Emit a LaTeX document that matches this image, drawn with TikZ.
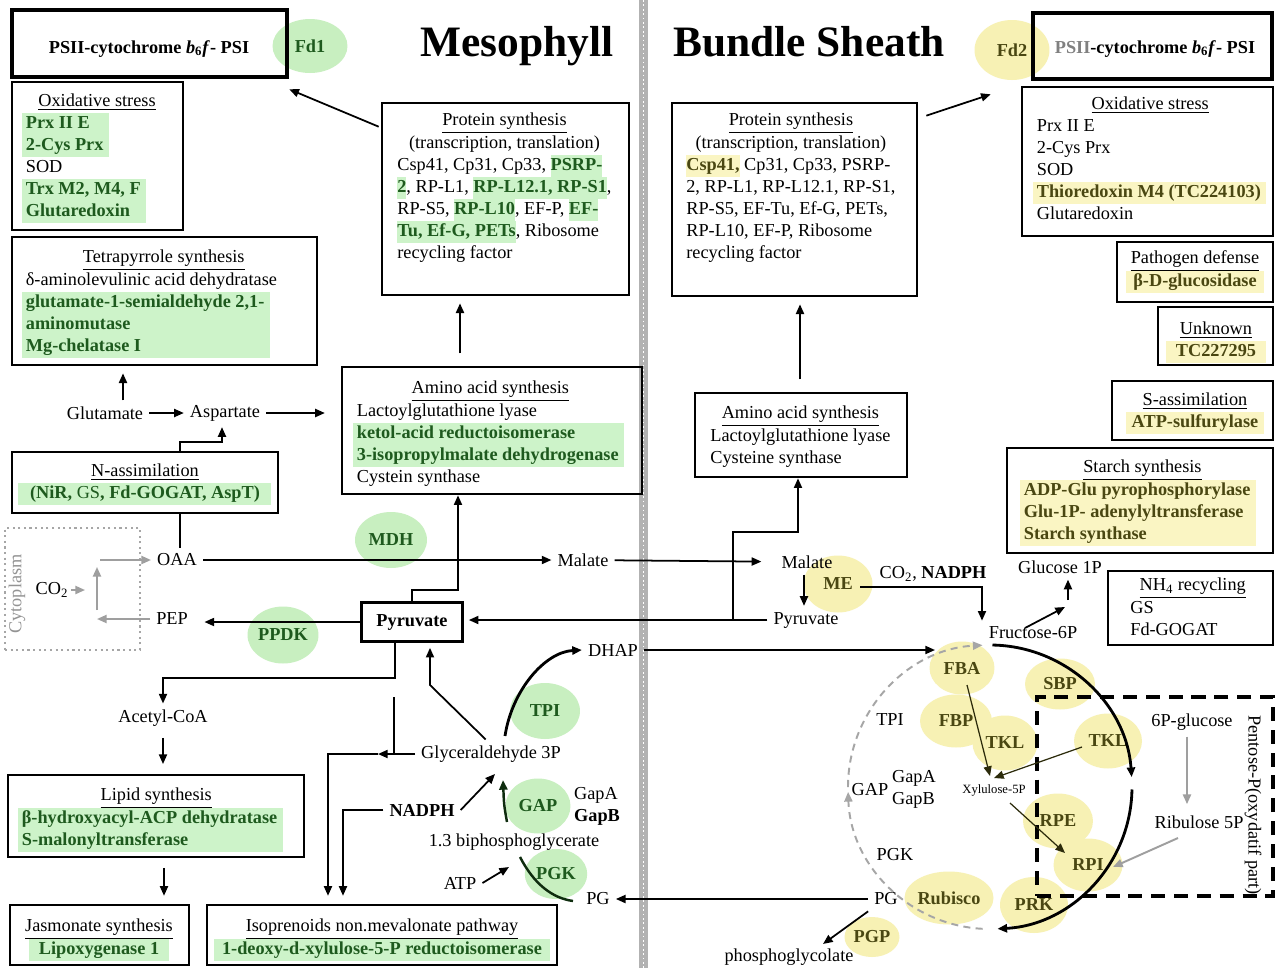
\documentclass[tikz,border=0pt]{standalone}
\usepackage{fontspec}
\setmainfont{Liberation Serif}
\usepackage{array}
\usetikzlibrary{arrows.meta,shapes.geometric,fit}

\definecolor{hlgreen}{HTML}{CDF3C9}
\definecolor{ellgreen}{HTML}{C8EFC0}
\definecolor{txgreen}{HTML}{1E5A1E}
\definecolor{hlyellow}{HTML}{FAF5C3}
\definecolor{ellyellow}{HTML}{F7F1B4}
\definecolor{txolive}{HTML}{4A4712}

\setlength{\fboxsep}{0pt}
% highlighted blocks, words and centred lines
\newcommand{\gb}[1]{\colorbox{hlgreen}{\begin{tabular}{@{\hspace{2pt}}>{\bfseries\color{txgreen}}l@{\hspace{3pt}}}#1\end{tabular}}}
\newcommand{\yb}[1]{\colorbox{hlyellow}{\begin{tabular}{@{\hspace{2pt}}>{\bfseries\color{txolive}}l@{\hspace{3pt}}}#1\end{tabular}}}
\newcommand{\gw}[1]{\colorbox{hlgreen}{\strut\textbf{\color{txgreen}#1}}}
\newcommand{\yw}[1]{\colorbox{hlyellow}{\strut\textbf{\color{txolive}#1}}}
\newcommand{\gc}[2]{\colorbox{hlgreen}{\makebox[#1]{\strut\textbf{\color{txgreen}#2}}}}
\newcommand{\yc}[2]{\colorbox{hlyellow}{\makebox[#1]{\strut\textbf{\color{txolive}#2}}}}
\newcommand{\ttl}[1]{\multicolumn{1}{@{}c@{}}{\underline{#1}}}

\begin{document}
\begin{tikzpicture}[x=0.02cm, y=-0.02cm, >={Triangle[length=5.5pt,width=4.6pt]},
    every node/.style={font=\fontsize{10.4}{12.5}\selectfont},
    obox/.style={draw, line width=1.5pt, inner sep=0pt},
    pbox/.style={draw, line width=2.6pt, inner sep=0pt},
    tbox/.style={inner sep=0pt},
    gell/.style={ellipse, fill=ellgreen, inner sep=0pt, text=txgreen, font=\fontsize{10.4}{12.5}\selectfont\bfseries},
    yell/.style={ellipse, fill=ellyellow, inner sep=0pt, text=txolive, font=\fontsize{10.4}{12.5}\selectfont\bfseries},
    arr/.style={->, line width=1pt},
    garr/.style={->, line width=1.1pt, draw=gray!75},
    xarr/.style={->, line width=0.7pt, draw=txolive!60!black},
    cyc/.style={->, line width=1.6pt},
    dcyc/.style={->, line width=1.1pt, draw=gray!70, dash pattern=on 4pt off 3pt}]

\useasboundingbox (0,0) rectangle (1276,968);
\fill[white] (0,0) rectangle (1276,968);

% separator
\fill[gray!60] (639,0) rectangle (648,968);
\draw[white, line width=1pt, dash pattern=on 1pt off 1.5pt] (643.5,0) -- (643.5,968);

% headings
\node[anchor=base, font=\fontsize{24.7}{29}\selectfont\bfseries] (meso) at (517,56) {Mesophyll};
\node[anchor=base, font=\fontsize{24.7}{29}\selectfont\bfseries] (bsh) at (809,56) {Bundle Sheath};

% enzymes, mesophyll
\node[gell, minimum width=1.5cm, minimum height=1.08cm] (fd1) at (310,46) {Fd1};
\node[gell, minimum width=1.44cm, minimum height=1.12cm] (mdh) at (391,540) {MDH};
\node[gell, minimum width=1.42cm, minimum height=1.14cm] (ppdk) at (283,635) {PPDK};
\node[gell, minimum width=1.4cm, minimum height=1.12cm] (tpi) at (545,711) {TPI};
\node[gell, minimum width=1.3cm, minimum height=1.1cm] (gap) at (538,806) {GAP};
\node[gell, minimum width=1.25cm, minimum height=1.0cm] (pgk) at (556,874) {PGK};

% enzymes, bundle sheath
\node[yell, minimum width=1.5cm, minimum height=1.2cm] (fd2) at (1012,50) {Fd2};
\node[yell, minimum width=1.38cm, minimum height=1.14cm] (me) at (838,584) {ME};
\node[yell, minimum width=1.3cm, minimum height=1.06cm] (fba) at (962,668) {FBA};
\node[yell, minimum width=1.44cm, minimum height=1.06cm] (fbp) at (956,721) {FBP};
\node[yell, minimum width=1.3cm, minimum height=1.1cm] (tkla) at (1005,743) {TKL};
\node[yell, minimum width=1.4cm, minimum height=1.02cm] (sbp) at (1060,684) {SBP};
\node[yell, minimum width=1.36cm, minimum height=1.1cm] (tklb) at (1108,741) {TKL};
\node[yell, minimum width=1.4cm, minimum height=1.1cm] (rpe) at (1058,821) {RPE};
\node[yell, minimum width=1.38cm, minimum height=1.06cm] (rpi) at (1088,865) {RPI};
\node[yell, minimum width=1.36cm, minimum height=1.12cm] (prk) at (1034,905) {PRK};
\node[yell, minimum width=1.5cm, minimum height=1.06cm] (rub) at (949,898) {Rubisco};
\node[yell, minimum width=1.1cm, minimum height=0.8cm] (pgp) at (872,937) {PGP};

% frames, mesophyll
\node[pbox, fit={(12,10) (287,77)}] (psi1) {};
\node[obox, fit={(12,82) (183,230)}] (ox1) {};
\node[obox, fit={(12,237) (317,365)}] (tetra) {};
\node[obox, fit={(12,452) (278,513)}] (nassim) {};
\node[obox, fit={(342,367) (642,494)}] (amino1) {};
\node[obox, fit={(382,103) (629,295)}] (prot1) {};
\node[obox, fit={(8,775) (304,857)}] (lipid) {};
\node[obox, fit={(10,905) (189,965)}] (jasm) {};
\node[obox, fit={(207,905) (557,965)}] (isop) {};
\node[draw=gray!70, line width=1.2pt, dotted, inner sep=0pt, fit={(5,528) (140,650)}] (cytobox) {};

% frames, bundle sheath
\node[obox, fit={(672,103) (917,296)}] (prot2) {};
\node[obox, fit={(695,393) (907,477)}] (amino2) {};
\node[pbox, fit={(1033,13) (1272,79)}] (psi2) {};
\node[obox, fit={(1022,87) (1273,236)}] (ox2) {};
\node[obox, fit={(1117,242) (1273,302)}] (path) {};
\node[obox, fit={(1158,307) (1273,365)}] (unk) {};
\node[obox, fit={(1112,381) (1273,440)}] (sass) {};
\node[obox, fit={(1007,448) (1273,553)}] (starch) {};
\node[obox, fit={(1108,571) (1273,645)}] (nh4) {};
\node[draw, line width=1.8pt, dash pattern=on 8pt off 5pt, inner sep=0pt, fit={(1037,697) (1273,896)}] (pent) {};

% frame texts, mesophyll
\node[anchor=base] (psi1t) at (149,53) {\textbf{PSII-cytochrome \textit{b}\textsubscript{6}\textit{f}- PSI}};
\node[tbox, anchor=north west] (ox1t) at (22,91) {\begin{tabular}{@{}p{85pt}@{}}
  \ttl{Oxidative stress}\\
  \gb{Prx II E\\2-Cys Prx}\\
  \hspace{2pt}SOD\\
  \gb{Trx M2, M4, F\\Glutaredoxin}
\end{tabular}};
\node[tbox, anchor=north west] (tetrat) at (22,247) {\begin{tabular}{@{}p{161pt}@{}}
  \ttl{Tetrapyrrole synthesis}\\
  \hspace{2pt}δ-aminolevulinic acid dehydratase\\
  \gb{glutamate-1-semialdehyde 2,1-\\aminomutase\\Mg-chelatase I}
\end{tabular}};
\node[tbox, anchor=north] (nassimt) at (145,461) {\begin{tabular}{@{}c@{}}
  \underline{N-assimilation}\\
  \gc{144pt}{(NiR, {\mdseries GS}, Fd-GOGAT, AspT)}
\end{tabular}};
\node[tbox, anchor=north west] (amino1t) at (353,378) {\begin{tabular}{@{}p{156pt}@{}}
  \ttl{Amino acid synthesis}\\
  \hspace{2pt}Lactoylglutathione lyase\\
  \gb{ketol-acid reductoisomerase\\3-isopropylmalate dehydrogenase}\\
  \hspace{2pt}Cystein synthase
\end{tabular}};
\node[tbox, anchor=north west] (prot1t) at (397,110) {\begin{tabular}{@{}l@{}}
  \ttl{Protein synthesis}\\
  \multicolumn{1}{@{}c@{}}{(transcription, translation)}\\
  Csp41, Cp31, Cp33, \gw{PSRP-}\\
  \gw{2}, RP-L1, \gw{RP-L12.1, RP-S1},\\
  RP-S5, \gw{RP-L10}, EF-P, \gw{EF-}\\
  \gw{Tu, Ef-G, PETs}, Ribosome\\
  recycling factor
\end{tabular}};
\node[tbox, anchor=north west] (lipidt) at (18,785) {\begin{tabular}{@{}p{157pt}@{}}
  \ttl{Lipid synthesis}\\
  \gb{β-hydroxyacyl-ACP dehydratase\\S-malonyltransferase}
\end{tabular}};
\node[tbox, anchor=north] (jasmt) at (99,916) {\begin{tabular}{@{}c@{}}
  \underline{Jasmonate synthesis}\\
  \gc{80pt}{Lipoxygenase 1}
\end{tabular}};
\node[tbox, anchor=north] (isopt) at (382,916) {\begin{tabular}{@{}c@{}}
  \underline{Isoprenoids non.mevalonate pathway}\\
  \gc{191pt}{1-deoxy-d-xylulose-5-P reductoisomerase}
\end{tabular}};

% frame texts, bundle sheath
\node[anchor=base] (psi2t) at (1155,53) {\textbf{{\color{gray}PSII}-cytochrome \textit{b}\textsubscript{6}\textit{f}- PSI}};
\node[tbox, anchor=north west] (prot2t) at (686,110) {\begin{tabular}{@{}l@{}}
  \ttl{Protein synthesis}\\
  \multicolumn{1}{@{}c@{}}{(transcription, translation)}\\
  \yw{Csp41,} Cp31, Cp33, PSRP-\\
  2, RP-L1, RP-L12.1, RP-S1,\\
  RP-S5, EF-Tu, Ef-G, PETs,\\
  RP-L10, EF-P, Ribosome\\
  recycling factor
\end{tabular}};
\node[tbox, anchor=north west] (amino2t) at (710,403) {\begin{tabular}{@{}l@{}}
  \ttl{Amino acid synthesis}\\
  Lactoylglutathione lyase\\
  Cysteine synthase
\end{tabular}};
\node[tbox, anchor=north west] (ox2t) at (1033,94) {\begin{tabular}{@{}p{133pt}@{}}
  \ttl{Oxidative stress}\\
  \hspace{2pt}Prx II E\\
  \hspace{2pt}2-Cys Prx\\
  \hspace{2pt}SOD\\
  \yb{Thioredoxin M4 (TC224103)}\\
  \hspace{2pt}Glutaredoxin
\end{tabular}};
\node[tbox, anchor=north] (patht) at (1195,248) {\begin{tabular}{@{}c@{}}
  \underline{Pathogen defense}\\
  \yc{78pt}{β-D-glucosidase}
\end{tabular}};
\node[tbox, anchor=north] (unkt) at (1216,319) {\begin{tabular}{@{}c@{}}
  \underline{Unknown}\\
  \yc{57pt}{TC227295}
\end{tabular}};
\node[tbox, anchor=north] (sasst) at (1195,390) {\begin{tabular}{@{}c@{}}
  \underline{S-assimilation}\\
  \yc{78pt}{ATP-sulfurylase}
\end{tabular}};
\node[tbox, anchor=north west] (starcht) at (1020,457) {\begin{tabular}{@{}p{139pt}@{}}
  \ttl{Starch synthesis}\\
  \yb{ADP-Glu pyrophosphorylase\\Glu-1P- adenylyltransferase\\Starch synthase}
\end{tabular}};
\node[tbox, anchor=north west] (nh4t) at (1130,575) {\begin{tabular}{@{}p{71pt}@{}}
  \ttl{NH\textsubscript{4} recycling}\\
  GS\\
  Fd-GOGAT
\end{tabular}};

% metabolites, mesophyll
\node (glut) at (105,413) {Glutamate};
\node (asp) at (225,413) {Aspartate};
\node (oaa) at (177,560) {OAA};
\node (pep) at (172,619) {PEP};
\node (co2) at (52,590) {CO\textsubscript{2}};
\node[rotate=90, text=gray!85] (cyto) at (17,594) {Cytoplasm};
\node (mal1) at (583,560) {Malate};
\node[draw, line width=1.2pt, minimum width=2.02cm, minimum height=0.78cm, font=\fontsize{10.4}{12.5}\selectfont\bfseries] (pyr1) at (412,622) {Pyruvate};
\node (acoa) at (163,718) {Acetyl-CoA};
\node (dhap) at (613,650) {DHAP};
\node (g3p) at (491,754) {Glyceraldehyde 3P};
\node[font=\fontsize{10.4}{12.5}\selectfont\bfseries] (nadph) at (422,810) {NADPH};
\node[align=left] (gapab) at (597,806) {GapA\\\textbf{GapB}};
\node (bpg) at (514,842) {1.3 biphosphoglycerate};
\node (atp) at (460,883) {ATP};
\node (pg1) at (598,899) {PG};

% metabolites, bundle sheath
\node (mal2) at (807,562) {Malate};
\node (pyr2) at (806,620) {Pyruvate};
\node (co2n) at (933,574) {CO\textsubscript{2}, \textbf{NADPH}};
\node (fru) at (1033,633) {Fructose-6P};
\node (glc) at (1060,567) {Glucose 1P};
\node (tpi2) at (890,720) {TPI};
\node (gap2) at (870,790) {GAP};
\node[align=left] (gapab2) at (914,789) {GapA\\GapB};
\node (pgk2) at (895,855) {PGK};
\node (pg2) at (886,899) {PG};
\node (phgly) at (789,957) {phosphoglycolate};
\node[font=\fontsize{7.2}{9}\selectfont] (xyl) at (994,790) {Xylulose-5P};
\node (g6p) at (1192,722) {6P-glucose};
\node (ru5p) at (1199,822) {Ribulose 5P};
\node[rotate=-90] (pentl) at (1253,805) {Pentose-P(oxydatif part)};

% connectors, mesophyll
\draw[arr] ([shift={(-2,25)}]prot1.north west) -- ([shift={(0,10)}]psi1.south east);
\draw[arr, shorten <=7pt, shorten >=4pt] (460,0 |- amino1.north) -- (460,0 |- prot1.south);
\draw[arr, shorten >=4pt] (123,0 |- glut.north) -- (123,0 |- tetra.south);
\draw[arr] (glut) -- (asp);
\draw[arr, shorten >=9pt] (asp.east) -- (asp.east -| amino1.west);
\draw[arr] (180,0 |- nassim.north) |- (222,442) -- (222,0 |- asp.south);
\draw[line width=1pt] (180,0 |- oaa.north) -- (180,0 |- nassim.south);
\draw[arr] (oaa) -- (mal1);
\draw[arr, shorten >=8pt] (mal1) -- (mal2);
\draw[arr, shorten >=6pt] (pyr1.west) -- (pyr1.west -| pep.east);
% cytoplasm loop
\draw[garr] (pep.west) -- (97,619);
\draw[garr] (97,610) -- (97,567);
\draw[garr] (100,560) -- (oaa.west);
\draw[garr] ([xshift=-2pt]co2.east) -- ++(14,0);
% pyruvate branches
\draw[arr] (pyr1.north) |- (458,590) -- (458,0 |- amino1.south);
\draw[arr] (395,0 |- pyr1.south) |- (163,678) -- (acoa.north);
\draw[arr, shorten <=3pt, shorten >=5.5pt] (acoa.south) -- (acoa.south |- lipid.north);
\draw[arr, shorten <=5.5pt, shorten >=4.5pt] (164,0 |- lipid.south) -- (164,0 |- jasm.north);
% triose phosphates
\draw[arr, shorten >=3pt] ([xshift=-3pt]g3p.north) -- (430,685) -- (430,0 |- pyr1.south);
\draw[arr] (g3p.west) -- (378,754);
\draw[arr, shorten >=4.5pt] (378,754) -| (328,0 |- isop.north);
\draw[line width=1pt] (394,697) -- (394,754);
\draw[arr, shorten >=4.5pt] (nadph.west) -| (343,0 |- isop.north);
\draw[arr] (nadph.east) -- (495,774);
\draw[->, line width=1.4pt, draw=txgreen!50!black] (507,822) .. controls (504,805) .. (503,780);
\draw[line width=1.4pt, draw=txgreen!50!black] (520,857) .. controls (534,884) and (552,898) .. (573,901);
\draw[arr] (atp.east) -- (509,867);
\draw[->, line width=1.6pt] (505,736) .. controls (512,690) and (545,652) .. (dhap.west);

% connectors, bundle sheath
\draw[arr] (dhap.east) -- (dhap.east -| 935,0);
\draw[arr] (pg2.west) -- (pg2.west -| pg1.east);
\draw[arr] (pg2.south west) -- (823,944);
\draw[arr] (804,0 |- mal2.south) -- (804,0 |- pyr2.north);
\draw[arr, shorten >=3pt] (pyr2.west) -- (pyr2.west -| pyr1.east);
\draw[arr] (733,0 |- pyr2.west) |- (798,532) -- (798,0 |- amino2.south);
\draw[arr, shorten <=7pt, shorten >=4pt] (800,0 |- amino2.north) -- (800,0 |- prot2.south);
\draw[arr] ([shift={(8,14)}]prot2.north east) -- ([shift={(-40,13)}]psi2.south west);
\draw[arr] ([shift={(22,3)}]me.center) -| (982,0 |- fru.north);
\draw[arr] (1025,628) -- (1065,607);
\draw[arr] (1068,600) -- (1068,0 |- glc.south);

% Calvin cycle
\coordinate (cc) at (990,787);
\draw[cyc] ([shift={(-89:142)}]cc) arc[start angle=-89, end angle=-4, radius=142];
\draw[cyc] ([shift={(1:142)}]cc) arc[start angle=1, end angle=87, radius=142];
\draw[dcyc] ([shift={(93:142)}]cc) arc[start angle=93, end angle=178, radius=142];
\draw[dcyc] ([shift={(180:142)}]cc) arc[start angle=180, end angle=267, radius=142];
\draw[xarr] (967,685) -- (990,776);
\draw[xarr] (1082,747) -- (994,778);
\draw[xarr] (1010,803) -- (1065,853);
\draw[garr, shorten >=3pt] (1187,0 |- g6p.south) -- (1187,0 |- ru5p.north);
\draw[garr] ([shift={(-21,16)}]ru5p.center) -- (1113,867);
\end{tikzpicture}
\end{document}
